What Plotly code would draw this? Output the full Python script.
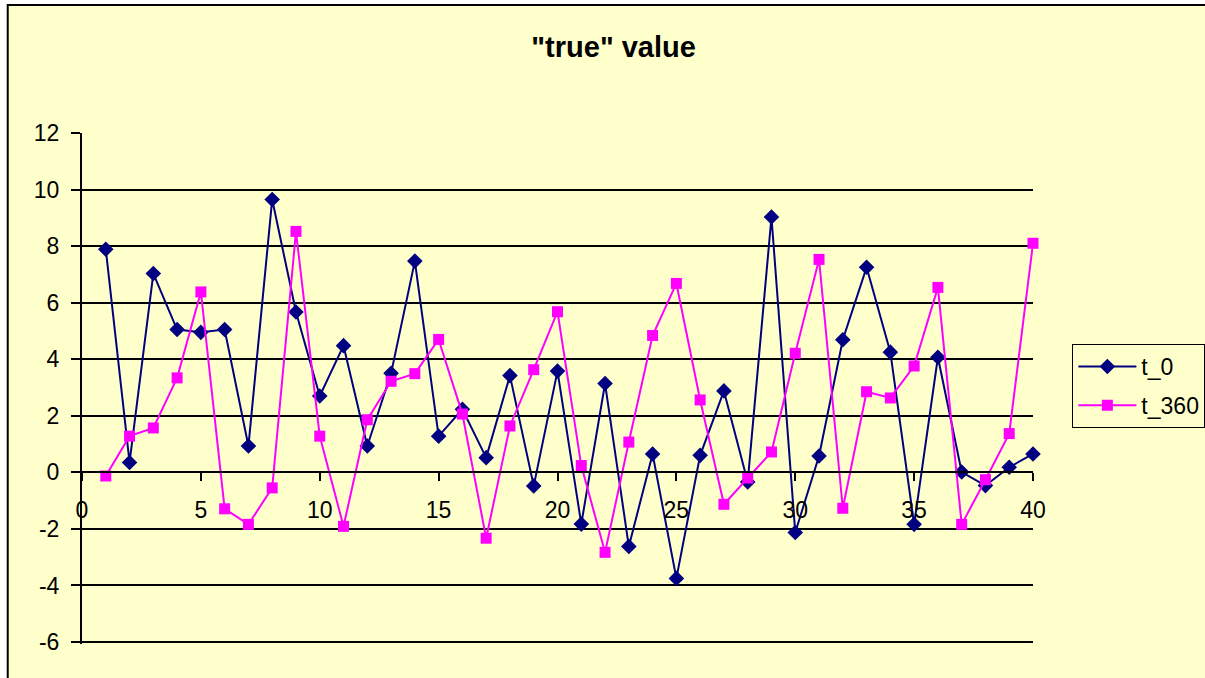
import plotly.graph_objects as go

x_vals = list(range(1, 41))
t_0 = [7.89, 0.35, 7.03, 5.05, 4.95, 5.05, 0.93, 9.65, 5.67, 2.70,
       4.48, 0.93, 3.50, 7.47, 1.28, 2.23, 0.52, 3.42, -0.48, 3.58,
       -1.83, 3.14, -2.62, 0.65, -3.75, 0.60, 2.88, -0.34, 9.03, -2.13,
       0.58, 4.69, 7.25, 4.25, -1.84, 4.07, 0.01, -0.47, 0.18, 0.65]
t_360 = [-0.13, 1.28, 1.57, 3.34, 6.38, -1.29, -1.84, -0.55, 8.52, 1.28,
         -1.91, 1.86, 3.22, 3.49, 4.70, 2.06, -2.33, 1.64, 3.63, 5.68,
         0.24, -2.83, 1.07, 4.84, 6.68, 2.56, -1.13, -0.20, 0.72, 4.21,
         7.53, -1.27, 2.85, 2.63, 3.76, 6.54, -1.84, -0.26, 1.37, 8.10]
x_ticks = [0, 5, 10, 15, 20, 25, 30, 35, 40]
y_ticks = [-6, -4, -2, 0, 2, 4, 6, 8, 10, 12]
y_tick_labels = ["-6", "-4", "-2", "0", "2", "4", "6", "8", "10", "12"]

BG = "#FFFFCC"
FONT = "Liberation Sans, Arial, sans-serif"

# plot area: 509 px for 18 units; extend 2 px below -6 so its gridline is drawn
PLOT_H = 511
Y_LOW = -6 - 2 * 18 / 509
Y_HIGH = 12

fig = go.Figure()
fig.add_trace(go.Scatter(
    x=x_vals, y=t_0, name="t_0", mode="lines+markers", legendgroup="a",
    line=dict(color="#000080", width=2),
    marker=dict(symbol="diamond", size=12, color="#000080"),
    cliponaxis=False,
))
fig.add_trace(go.Scatter(
    x=x_vals, y=t_360, name="t_360", mode="lines+markers", legendgroup="b",
    line=dict(color="#FF00FF", width=2),
    marker=dict(symbol="square", size=11, color="#FF00FF"),
    cliponaxis=False,
))

# chart-area frame (paper coords relative to the plot area)
fig.add_shape(type="rect", xref="paper", yref="paper",
              x0=-0.0781, x1=1.4, y0=-0.3, y1=(644 - 5) / PLOT_H,
              fillcolor=BG, line=dict(color="black", width=2), layer="below")

fig.update_layout(
    width=1205, height=678,
    paper_bgcolor="white",
    plot_bgcolor="rgba(0,0,0,0)",
    margin=dict(l=82, r=172, t=133, b=34, autoexpand=False),
    font=dict(family=FONT, size=23, color="black"),
    title=dict(text='<b>"true" value</b>', x=0.559, xref="paper", xanchor="center",
               y=1 - 47 / 678, yref="container", yanchor="middle",
               font=dict(family=FONT, size=29, color="black")),
    showlegend=True,
    legend=dict(x=1.0414, y=(644 - 344) / PLOT_H, xanchor="left", yanchor="top",
                xref="paper", yref="paper",
                bgcolor=BG, bordercolor="black", borderwidth=1,
                font=dict(family=FONT, size=23, color="black"),
                tracegroupgap=6, itemwidth=58),
    xaxis=dict(range=[0, 40], tickvals=x_ticks, showgrid=False, zeroline=False,
               anchor="free", position=(0 - Y_LOW) / (Y_HIGH - Y_LOW),
               showline=True, linecolor="black",
               linewidth=2, ticks="outside", ticklen=8, tickwidth=2,
               tickcolor="black", ticklabelstandoff=9),
    yaxis=dict(range=[Y_LOW, Y_HIGH], tickvals=y_ticks, ticktext=y_tick_labels,
               showgrid=True, gridcolor="black",
               gridwidth=2, zeroline=False, showline=True, linecolor="black",
               linewidth=2, ticks="outside", ticklen=9, tickwidth=2,
               tickcolor="black", ticklabelstandoff=7),
)

fig.write_html(
    "out.html",
    config={"displayModeBar": False},
    post_script="document.body.style.margin='0';document.body.style.overflow='hidden';",
)
